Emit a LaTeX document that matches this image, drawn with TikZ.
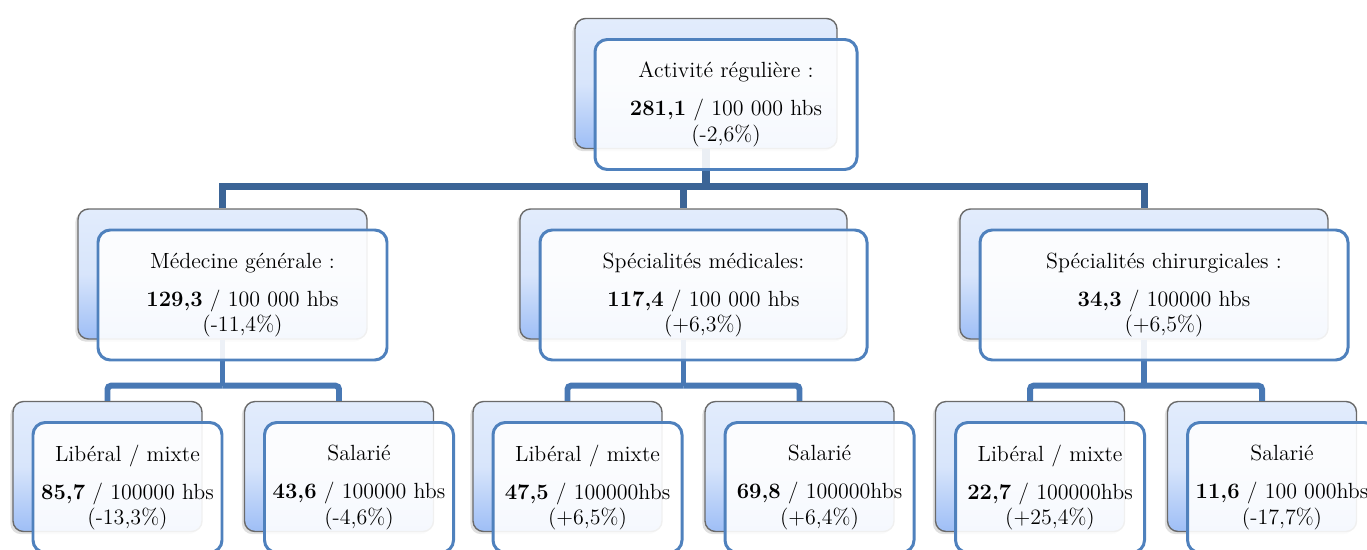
\documentclass[tikz,border=0pt]{standalone}
\usepackage{fontspec}
\usepackage{tikz}
\usetikzlibrary{shadows}

\definecolor{backtop}{HTML}{E2ECFC}
\definecolor{backbot}{HTML}{9EBEF6}
\definecolor{backline}{HTML}{6A6A6A}
\definecolor{frameblue}{HTML}{4F81BD}
\definecolor{busdark}{HTML}{3B6496}
\definecolor{buslight}{HTML}{4878B4}

\begin{document}
\begin{tikzpicture}[
            backbox/.style={draw=backline, line width=0.8pt, rectangle, rounded corners=6pt, top color=backtop, bottom color=backbot, middle color=backtop!85!backbot, minimum height=2.6cm, drop shadow={opacity=0.25, shadow xshift=-1.5pt, shadow yshift=-1.5pt}},
            frontbox/.style={draw=frameblue, line width=1.7pt, rectangle, rounded corners=7pt, fill=white, fill opacity=0.9, text opacity=1, minimum height=2.6cm, align=center, xshift=0.4cm, yshift=-0.42cm, font=\fontsize{12.5}{14.5}\selectfont},
            bus/.style={draw=busdark, line width=4pt},
            subbus/.style={draw=buslight, line width=3.4pt, rounded corners=2pt}
        ]
            \useasboundingbox (0,0) rectangle (27.34,-11);

            \node[backbox, minimum width=5.24cm] (topback) at (14.12,-1.67) {};
            \node[backbox, minimum width=5.78cm] (medback) at (4.45,-5.48) {};
            \node[backbox, minimum width=6.54cm] (specback) at (13.67,-5.48) {};
            \node[backbox, minimum width=7.36cm] (chirback) at (22.88,-5.48) {};
            \node[backbox, minimum width=3.78cm] (medlibback) at (2.15,-9.33) {};
            \node[backbox, minimum width=3.78cm] (medsalback) at (6.78,-9.33) {};
            \node[backbox, minimum width=3.78cm] (speclibback) at (11.35,-9.33) {};
            \node[backbox, minimum width=3.78cm] (specsalback) at (15.99,-9.33) {};
            \node[backbox, minimum width=3.78cm] (chirlibback) at (20.6,-9.33) {};
            \node[backbox, minimum width=3.78cm] (chirsalback) at (25.24,-9.33) {};

            \draw[bus] (topback.south) -- ++(0,-0.74) coordinate (tophub);
            \draw[bus] (tophub) -| (medback.north);
            \draw[bus] (tophub) -| (specback.north);
            \draw[bus] (tophub) -| (chirback.north);

            \draw[subbus] (medback.south) -- ++(0,-0.92) coordinate (medhub);
            \draw[subbus] (medhub) -| (medlibback.north);
            \draw[subbus] (medhub) -| (medsalback.north);
            \draw[subbus] (specback.south) -- ++(0,-0.92) coordinate (spechub);
            \draw[subbus] (spechub) -| (speclibback.north);
            \draw[subbus] (spechub) -| (specsalback.north);
            \draw[subbus] (chirback.south) -- ++(0,-0.92) coordinate (chirhub);
            \draw[subbus] (chirhub) -| (chirlibback.north);
            \draw[subbus] (chirhub) -| (chirsalback.north);

            \node[frontbox, minimum width=5.24cm] (top) at (topback) {Activité régulière :\\[7pt]\textbf{281,1} / 100 000 hbs\\(-2,6\%)};
            \node[frontbox, minimum width=5.78cm] (med) at (medback) {Médecine générale :\\[7pt]\textbf{129,3} / 100 000 hbs\\(-11,4\%)};
            \node[frontbox, minimum width=6.54cm] (spec) at (specback) {Spécialités médicales:\\[7pt]\textbf{117,4} / 100 000 hbs\\(+6,3\%)};
            \node[frontbox, minimum width=7.36cm] (chir) at (chirback) {Spécialités chirurgicales :\\[7pt]\textbf{34,3} / 100000 hbs\\(+6,5\%)};
            \node[frontbox, minimum width=3.78cm] (medlib) at (medlibback) {Libéral / mixte\\[7pt]\textbf{85,7} / 100000 hbs\\(-13,3\%)};
            \node[frontbox, minimum width=3.78cm] (medsal) at (medsalback) {Salarié\\[7pt]\textbf{43,6} / 100000 hbs\\(-4,6\%)};
            \node[frontbox, minimum width=3.78cm] (speclib) at (speclibback) {Libéral / mixte\\[7pt]\textbf{47,5} / 100000hbs\\(+6,5\%)};
            \node[frontbox, minimum width=3.78cm] (specsal) at (specsalback) {Salarié\\[7pt]\textbf{69,8} / 100000hbs\\(+6,4\%)};
            \node[frontbox, minimum width=3.78cm] (chirlib) at (chirlibback) {Libéral / mixte\\[7pt]\textbf{22,7} / 100000hbs\\(+25,4\%)};
            \node[frontbox, minimum width=3.78cm] (chirsal) at (chirsalback) {Salarié\\[7pt]\textbf{11,6} / 100 000hbs\\(-17,7\%)};
        \end{tikzpicture}
\end{document}
